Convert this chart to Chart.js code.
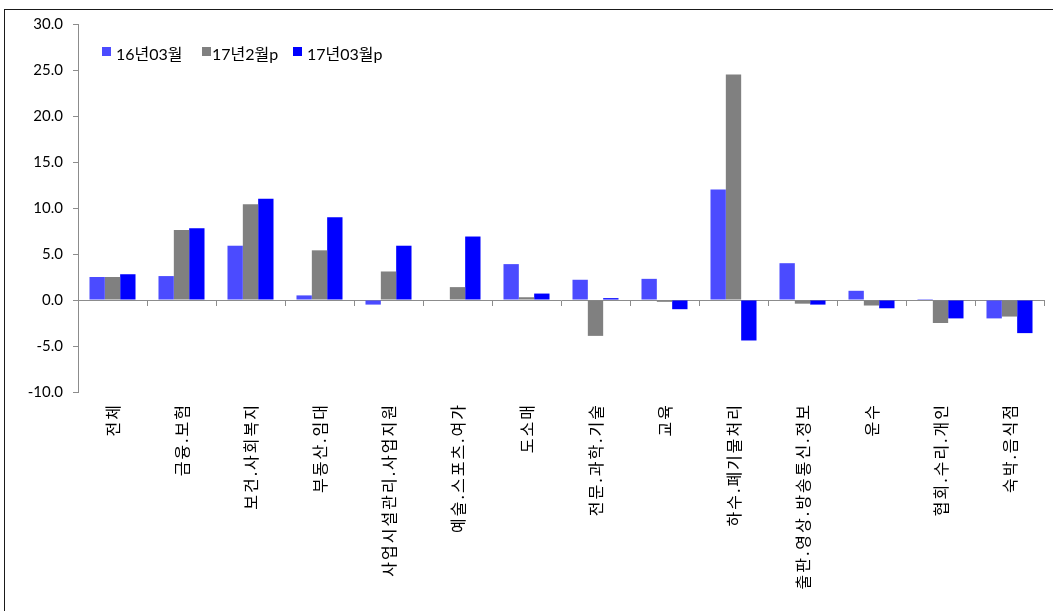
<!DOCTYPE html>
<html>
<head>
<meta charset="utf-8">
<script src="https://cdn.jsdelivr.net/npm/chart.js@4.4.0/dist/chart.umd.min.js"></script>
<style>
  html, body { margin: 0; padding: 0; background: #fff; overflow: hidden; }
  #wrap { position: relative; width: 1053px; height: 611px; }
  #frame { position: absolute; left: 4px; top: 9px; width: 1100px; height: 700px; border: 1px solid #1a1a1a; box-sizing: border-box; }
  #legend { position: absolute; left: 0; top: 41px; font: 16px Lato, "Noto Sans CJK KR", sans-serif; color: #000; white-space: nowrap; }
  #legend i { position: absolute; top: 6px; width: 9px; height: 9px; }
  #legend span { position: absolute; top: 0; }
  canvas { position: absolute; left: 0; top: 0; }
</style>
</head>
<body>
<div id="wrap">
  <div id="frame"></div>
  <canvas id="chart" width="1053" height="611"></canvas>
  <div id="legend"></div>
</div>
<script>
const categories = [
  '전체', '금융.보험', '보건.사회복지', '부동산.임대', '사업시설관리.사업지원',
  '예술.스포츠.여가', '도소매', '전문.과학.기술', '교육', '하수.폐기물처리',
  '출판.영상.방송통신.정보', '운수', '협회.수리.개인', '숙박.음식점'
]
const seriesNames = ['16년03월', '17년2월p', '17년03월p']
const seriesColors = ['#4b4bff', '#808080', '#0000ff']
const mar16 = [2.5, 2.6, 5.9, 0.5, -0.5, 0.0, 3.9, 2.2, 2.3, 12.0, 4.0, 1.0, 0.1, -2.0]
const feb17 = [2.5, 7.6, 10.4, 5.4, 3.1, 1.4, 0.3, -3.9, -0.2, 24.5, -0.4, -0.6, -2.5, -1.8]
const mar17 = [2.8, 7.8, 11.0, 9.0, 5.9, 6.9, 0.7, 0.2, -1.0, -4.4, -0.5, -0.9, -2.0, -3.6]
const yTicks = [-10, -5, 0, 5, 10, 15, 20, 25, 30]

const axisGray = '#8c8c8c'
const values = [mar16, feb17, mar17]

// HTML legend inside the plot area, top-left
const legendEl = document.getElementById('legend')
const swatchX = [102, 202, 293]
const textX = [116, 212, 307]
seriesNames.forEach((name, i) => {
  const sw = document.createElement('i')
  sw.style.left = swatchX[i] + 'px'
  sw.style.background = seriesColors[i]
  legendEl.appendChild(sw)
  const txt = document.createElement('span')
  txt.style.left = textX[i] + 'px'
  txt.textContent = name
  legendEl.appendChild(txt)
})

// wider letter spacing for the category labels only (y tick labels drawn later, ticks.z: 1)
const labelSpacing = {
  id: 'labelSpacing',
  beforeDraw(chart) { chart.ctx.letterSpacing = '2px' },
  beforeDatasetsDraw(chart) { chart.ctx.letterSpacing = '0px' }
}

new Chart(document.getElementById('chart'), {
  type: 'bar',
  data: {
    labels: categories,
    datasets: seriesNames.map((name, i) => ({
      label: name,
      data: values[i],
      backgroundColor: seriesColors[i],
      borderWidth: 0,
      categoryPercentage: 0.667,
      barPercentage: 1.0,
      xAxisID: 'x'
    }))
  },
  plugins: [labelSpacing],
  options: {
    responsive: false,
    animation: false,
    layout: { padding: { top: 24, right: 9, left: 0, bottom: 0 } },
    plugins: {
      legend: { display: false },
      tooltip: { enabled: false }
    },
    scales: {
      x: {
        type: 'category',
        position: 'bottom',
        offset: true,
        grid: { display: false },
        border: { display: false },
        afterFit: (s) => { s.height = 219 },
        ticks: {
          minRotation: 90,
          maxRotation: 90,
          autoSkip: false,
          padding: 3,
          color: '#000',
          font: { family: '"Noto Sans CJK KR", sans-serif', size: 16 }
        }
      },
      x2: {
        type: 'category',
        labels: categories,
        position: { y: 0 },
        offset: true,
        grid: {
          offset: true,
          drawOnChartArea: false,
          drawTicks: true,
          tickLength: 5,
          color: axisGray
        },
        border: { display: true, color: axisGray, width: 1 },
        ticks: { display: false }
      },
      y: {
        min: -10,
        max: 30,
        afterFit: (s) => { s.width = 78 },
        afterBuildTicks: (s) => { s.ticks = yTicks.map(v => ({ value: v })) },
        grid: {
          drawOnChartArea: false,
          drawTicks: true,
          tickLength: 5,
          color: axisGray
        },
        border: { display: true, color: axisGray, width: 1 },
        ticks: {
          z: 1,
          padding: 10,
          color: '#000',
          font: { family: 'Lato, sans-serif', size: 15 },
          callback: (v) => Number(v).toFixed(1)
        }
      }
    }
  }
})
</script>
</body>
</html>
